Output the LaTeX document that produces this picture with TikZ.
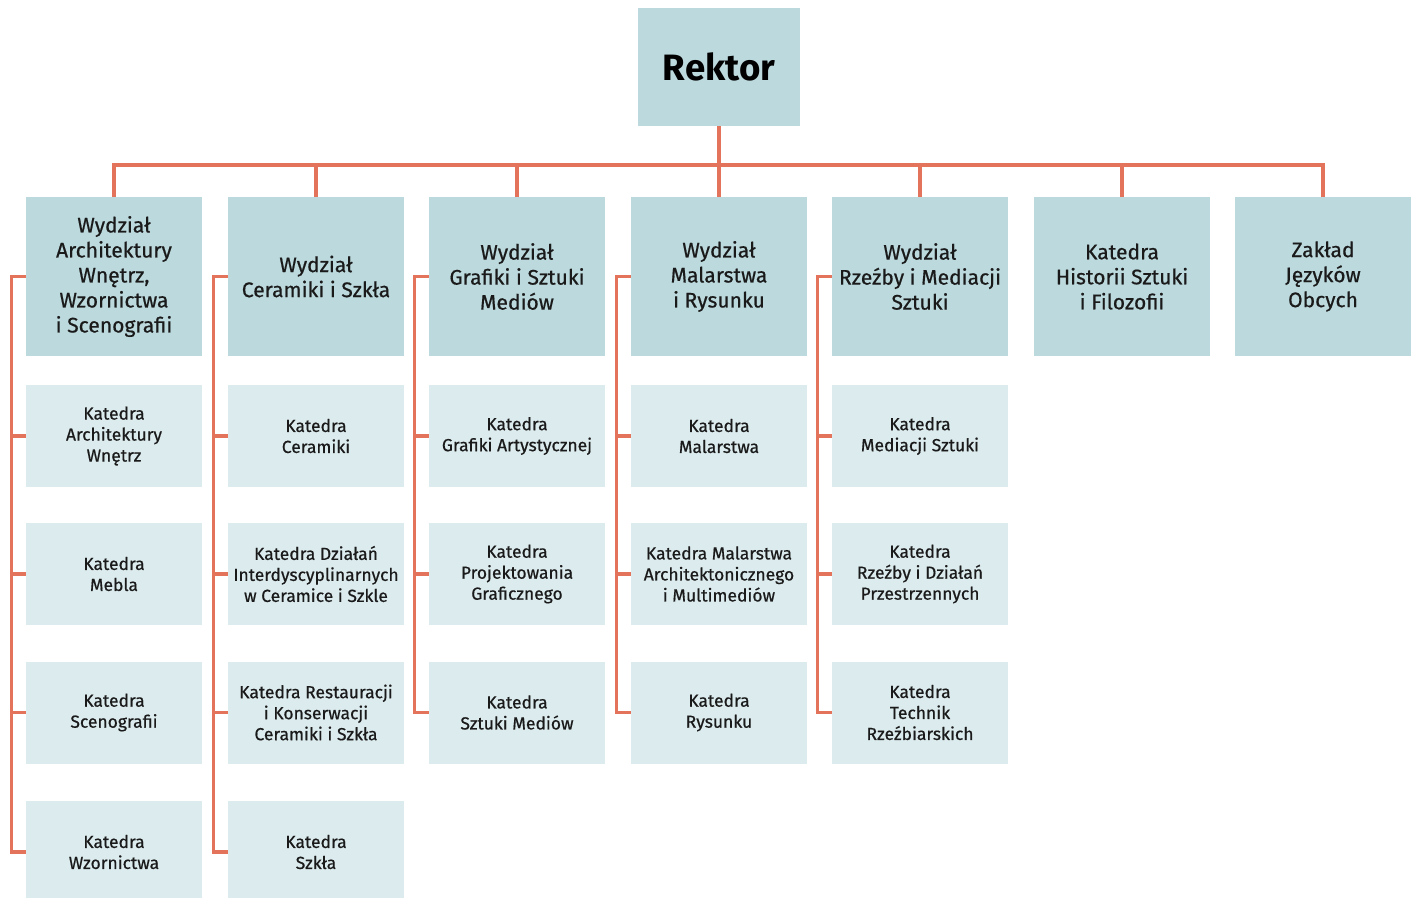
\documentclass[tikz,border=0pt]{standalone}
\usepackage{fontspec}
\setmainfont{Fira Sans}
\newfontfamily\boxfont{Fira Sans}[FakeBold=0.6]
\definecolor{topfill}{HTML}{BCD9DE}
\definecolor{subfill}{HTML}{DCEBEE}
\definecolor{linec}{HTML}{E4735C}
\definecolor{txt}{HTML}{1A1A1A}
\tikzset{
  topbox/.style={fill=topfill, inner sep=0pt, minimum width=132pt, minimum height=119.25pt, align=center, text=txt, font=\boxfont\fontsize{15.8}{18.75}\selectfont},
  subbox/.style={fill=subfill, inner sep=0pt, minimum width=132pt, minimum height=76.5pt, align=center, text=txt, font=\boxfont\fontsize{13.1}{15.75}\selectfont},
  rektorbox/.style={fill=topfill, inner sep=0pt, minimum width=121.5pt, minimum height=88.5pt, text=black, font=\fontsize{27.5}{30}\selectfont\bfseries},
  conn/.style={draw=linec, line width=2.3pt, line join=miter}
}
\begin{document}
\begin{tikzpicture}[x=0.75pt,y=-0.75pt]
\useasboundingbox (0,0) rectangle (1417,897);
\clip (0,0) rectangle (1417,897);
\node[rektorbox] (rektor) at (719,67) {Rektor};
% top row
\node[topbox] (t1) at (114,276.5) {Wydział\\Architektury\\Wnętrz,\\Wzornictwa\\i Scenografii};
\node[topbox] (t2) at (316,276.5) {Wydział\\Ceramiki i Szkła};
\node[topbox] (t3) at (517,276.5) {Wydział\\Grafiki i Sztuki\\Mediów};
\node[topbox] (t4) at (719,276.5) {Wydział\\Malarstwa\\i Rysunku};
\node[topbox] (t5) at (920,276.5) {Wydział\\Rzeźby i Mediacji\\Sztuki};
\node[topbox] (t6) at (1122,276.5) {Katedra\\Historii Sztuki\\i Filozofii};
\node[topbox] (t7) at (1323,276.5) {Zakład\\Języków\\Obcych};
% column 1
\node[subbox] (s1a) at (114,436) {Katedra\\Architektury\\Wnętrz};
\node[subbox] (s1b) at (114,574) {Katedra\\Mebla};
\node[subbox] (s1c) at (114,712.5) {Katedra\\Scenografii};
\node[subbox] (s1d) at (114,852) {Katedra\\Wzornictwa};
% column 2
\node[subbox] (s2a) at (316,436) {Katedra\\Ceramiki};
\node[subbox] (s2b) at (316,574) {Katedra Działań\\Interdyscyplinarnych\\w Ceramice i Szkle};
\node[subbox] (s2c) at (316,712.5) {Katedra Restauracji\\i Konserwacji\\Ceramiki i Szkła};
\node[subbox] (s2d) at (316,852) {Katedra\\Szkła};
% column 3
\node[subbox] (s3a) at (517,436) {Katedra\\Grafiki Artystycznej};
\node[subbox] (s3b) at (517,574) {Katedra\\Projektowania\\Graficznego};
\node[subbox] (s3c) at (517,712.5) {Katedra\\Sztuki Mediów};
% column 4
\node[subbox] (s4a) at (719,436) {Katedra\\Malarstwa};
\node[subbox] (s4b) at (719,574) {Katedra Malarstwa\\Architektonicznego\\i Multimediów};
\node[subbox] (s4c) at (719,712.5) {Katedra\\Rysunku};
% column 5
\node[subbox] (s5a) at (920,436) {Katedra\\Mediacji Sztuki};
\node[subbox] (s5b) at (920,574) {Katedra\\Rzeźby i Działań\\Przestrzennych};
\node[subbox] (s5c) at (920,712.5) {Katedra\\Technik\\Rzeźbiarskich};
% connectors from Rektor
\coordinate (bus) at (719,165);
\draw[conn] (rektor.south) -- (bus);
\foreach \i in {1,...,7} {\draw[conn] (t\i.north) |- (bus);}
% brackets
\draw[conn] (t1.west) -- ++(-14,0) |- (s1d.west);
\draw[conn] (t2.west) -- ++(-14,0) |- (s2d.west);
\draw[conn] (t3.west) -- ++(-14,0) |- (s3c.west);
\draw[conn] (t4.west) -- ++(-14,0) |- (s4c.west);
\draw[conn] (t5.west) -- ++(-14,0) |- (s5c.west);
\foreach \n in {s1a,s1b,s1c,s2a,s2b,s2c,s3a,s3b,s4a,s4b,s5a,s5b} {\draw[conn] (\n.west) -- ++(-14,0);}
\end{tikzpicture}
\end{document}
